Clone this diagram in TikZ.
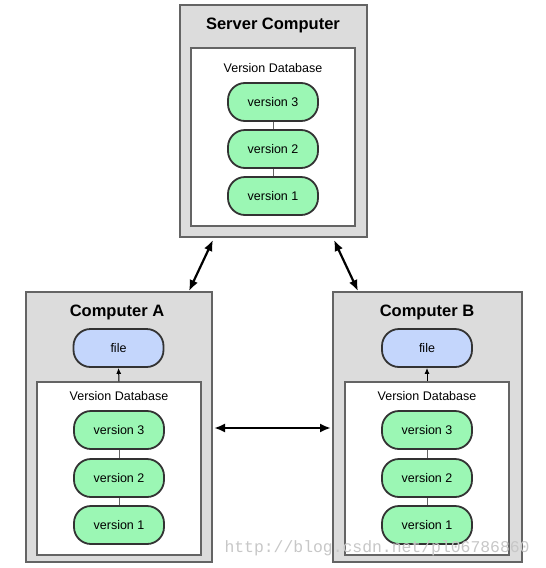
\documentclass[tikz,border=0pt]{standalone}
\usepackage{fontspec}
\setmainfont{Liberation Sans}
\newfontfamily\markfont{Liberation Mono}
\usetikzlibrary{positioning,arrows.meta}
\definecolor{boxgray}{RGB}{220,220,220}
\definecolor{edgegray}{RGB}{100,100,100}
\definecolor{vergreen}{RGB}{155,247,180}
\definecolor{fileblue}{RGB}{196,214,252}
\tikzset{
  machine/.style={draw=edgegray,fill=boxgray,line width=1.3pt,inner sep=0pt},
  database/.style={draw=edgegray,fill=white,line width=1.3pt,inner sep=0pt,minimum width=164pt},
  title/.style={font=\fontsize{16.5}{19}\selectfont\bfseries},
  dblabel/.style={font=\fontsize{12.5}{15}\selectfont},
  pill/.style={draw=black!80,line width=1.8pt,rounded corners=17pt,minimum width=90pt,minimum height=38pt,inner sep=0pt,font=\fontsize{12.5}{15}\selectfont},
  version/.style={pill,fill=vergreen},
  filepill/.style={pill,fill=fileblue},
  link/.style={draw=edgegray,line width=0.8pt},
  sync/.style={{Latex[length=11pt,width=9pt]}-{Latex[length=11pt,width=9pt]},line width=2.2pt}
}
\begin{document}
\begin{tikzpicture}[x=1pt,y=-1pt]
\useasboundingbox (0,0) rectangle (546,568);
%the three machines
\node[machine,minimum width=187pt,minimum height=232pt] (srv) at (273.5,121) {};
\node[database,minimum height=178pt] (srvdb) at (273,137) {};
\node[machine,minimum width=186pt,minimum height=270pt] (compA) at (119,427) {};
\node[database,minimum height=173pt] (dbA) at (119,468.5) {};
\node[machine,minimum width=189pt,minimum height=270pt] (compB) at (427.5,427) {};
\node[database,minimum height=173pt] (dbB) at (427,468.5) {};
%titles
\node[title] (srvtitle) at (273,25) {Server Computer};
\node[title] (titleA) at (117,312) {Computer A};
\node[title] (titleB) at (427,312) {Computer B};
\node[dblabel] (srvlabel) at (273,68) {Version Database};
\node[dblabel] (labelA) at (119,396) {Version Database};
\node[dblabel] (labelB) at (427,396) {Version Database};
%versions on the server
\node[version] (sv3) at (273,102) {version 3};
\node[version] (sv2) at (273,149) {version 2};
\node[version] (sv1) at (273,196) {version 1};
\draw[link] (sv3) -- (sv2) (sv2) -- (sv1);
%computer A
\node[filepill] (fileA) at (118.5,348) {file};
\node[version] (av3) at (119,430) {version 3};
\node[version] (av2) at (119,478) {version 2};
\node[version] (av1) at (119,525) {version 1};
\draw[link] (av3) -- (av2) (av2) -- (av1);
\draw[-{Latex[length=6pt,width=5pt]},line width=1pt] (dbA.north) -- (fileA.south);
%computer B
\node[filepill] (fileB) at (427,348) {file};
\node[version] (bv3) at (427,430) {version 3};
\node[version] (bv2) at (427,478) {version 2};
\node[version] (bv1) at (427,525) {version 1};
\draw[link] (bv3) -- (bv2) (bv2) -- (bv1);
\draw[-{Latex[length=6pt,width=5pt]},line width=1pt] (dbB.north) -- (fileB.south);
%sync arrows
\coordinate (sa) at (213,240);
\coordinate (as) at (189,291);
\coordinate (sb) at (334,240);
\coordinate (bs) at (358,291);
\coordinate (ab) at (214,428);
\coordinate (ba) at (331,428);
\draw[sync] (sa) -- (as);
\draw[sync] (sb) -- (bs);
\draw[sync] (ab) -- (ba);
%watermark
\node[text=black!22,font=\markfont\fontsize{16.4}{18}\selectfont,anchor=west] (mark) at (221,548) {http://blog.csdn.net/pl06786860};
\end{tikzpicture}
\end{document}
